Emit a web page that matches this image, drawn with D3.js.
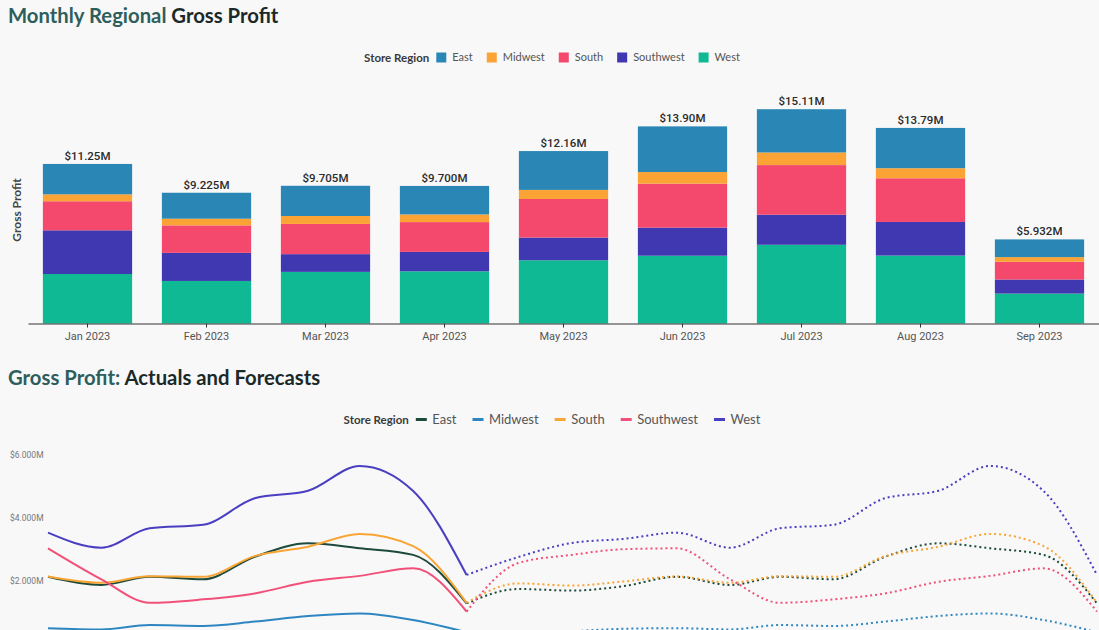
<!DOCTYPE html>
<html><head><meta charset="utf-8">
<script src="https://cdn.jsdelivr.net/npm/d3@7"></script>
<style>
html,body{margin:0;padding:0;background:#f8f8f8;overflow:hidden;}
svg{display:block;}
</style></head><body>
<svg id="chart" width="1099" height="630"></svg>
<script>
// ---------- data ----------
const months = ["Jan 2023","Feb 2023","Mar 2023","Apr 2023","May 2023","Jun 2023","Jul 2023","Aug 2023","Sep 2023"];
const regions = ["East","Midwest","South","Southwest","West"];
const barColors = ["#2a87b5","#fba435","#f4486d","#3f38b0","#0fb993"];
const lineColors = ["#1d4a3c","#2e86c1","#f8a534","#f0507a","#4a3fc0"];
const totals = [11.25e6, 9.225e6, 9.705e6, 9.700e6, 12.16e6, 13.90e6, 15.11e6, 13.79e6, 5.932e6];
// monthly gross profit by region ($M), bar chart
const eastBar      = [2.14, 1.83, 2.13, 2.01, 2.74, 3.22, 3.05, 2.84, 1.25];
const midwestBar   = [0.49, 0.47, 0.56, 0.54, 0.64, 0.82, 0.89, 0.71, 0.33];
const southBar     = [2.05, 1.94, 2.13, 2.10, 2.72, 3.10, 3.50, 3.08, 1.25];
const southwestBar = [3.08, 1.98, 1.25, 1.37, 1.60, 1.98, 2.12, 2.37, 0.99];
const westBar      = [3.49, 3.00, 3.64, 3.68, 4.46, 4.78, 5.55, 4.79, 2.11];

// line chart: actuals ($M)
const actualDates = ["2023-01","2023-02","2023-03","2023-04","2023-05","2023-06","2023-07","2023-08","2023-09"];
const eastActual      = [2.12, 1.86, 2.12, 2.04, 2.76, 3.19, 3.03, 2.82, 1.27];
const midwestActual   = [0.48, 0.44, 0.58, 0.55, 0.69, 0.87, 0.95, 0.74, 0.35];
const southActual     = [2.13, 1.93, 2.14, 2.12, 2.78, 3.08, 3.49, 3.10, 1.29];
const southwestActual = [3.03, 2.04, 1.29, 1.40, 1.59, 1.96, 2.15, 2.39, 1.01];
const westActual      = [3.53, 3.05, 3.67, 3.78, 4.63, 4.87, 5.66, 4.86, 2.18];
// line chart: forecasts ($M)
const forecastDates = ["2023-09","2023-10","2023-11","2023-12","2024-01","2024-02","2024-03","2024-04","2024-05","2024-06","2024-07","2024-08","2024-09"];
const eastForecast      = [1.27, 1.73, 1.68, 1.82, 2.12, 1.86, 2.12, 2.04, 2.76, 3.19, 3.03, 2.82, 1.27];
const midwestForecast   = [0.35, 0.28, 0.38, 0.46, 0.48, 0.44, 0.58, 0.55, 0.69, 0.87, 0.95, 0.74, 0.35];
const southForecast     = [1.29, 1.91, 1.84, 1.97, 2.13, 1.93, 2.14, 2.12, 2.78, 3.08, 3.49, 3.10, 1.29];
const southwestForecast = [1.01, 2.56, 2.82, 3.00, 3.03, 2.04, 1.29, 1.40, 1.59, 1.96, 2.15, 2.39, 1.01];
const westForecast      = [2.18, 2.75, 3.20, 3.33, 3.53, 3.05, 3.67, 3.78, 4.63, 4.87, 5.66, 4.86, 2.18];
const lineTicks = [2e6, 4e6, 6e6];

// ---------- setup ----------
const svg = d3.select("#chart");
const M = 1e6;
const fmt = d3.format("$.4s");
const TITLE_FONT = "Lato, 'Noto Sans', sans-serif";
const AXIS_FONT = "Roboto, 'Noto Sans', sans-serif";
const teal = "#2e5e5b", dark = "#1b2928";

function title(y, a, b) {
  const t = svg.append("text").attr("x", 8).attr("y", y)
    .attr("font-family", TITLE_FONT).attr("font-weight", 700).attr("font-size", 20.3);
  t.append("tspan").attr("fill", teal).text(a);
  t.append("tspan").attr("fill", dark).text(b);
}
title(23, "Monthly Regional ", "Gross Profit");
title(385, "Gross Profit: ", "Actuals and Forecasts");

// ---------- legend helper ----------
function legend(cy, centerX, itemSize, marker, colors, gapAfterMarker, gapItems) {
  const g = svg.append("g");
  let x = 0;
  const lab = g.append("text").attr("x", x).attr("y", cy).attr("dy", "0.35em")
    .attr("font-family", TITLE_FONT).attr("font-weight", 700).attr("font-size", 11.5)
    .attr("fill", "#3a3a3a").text("Store Region");
  x += lab.node().getComputedTextLength() + 7;
  regions.forEach((r, i) => {
    if (marker === "square") {
      g.append("rect").attr("x", x).attr("y", cy - 5).attr("width", 10).attr("height", 10).attr("fill", colors[i]);
      x += 10 + gapAfterMarker;
    } else {
      g.append("rect").attr("x", x).attr("y", cy - 1.5).attr("width", 11).attr("height", 3).attr("fill", colors[i]);
      x += 11 + gapAfterMarker;
    }
    const t = g.append("text").attr("x", x).attr("y", cy).attr("dy", "0.35em")
      .attr("font-family", TITLE_FONT).attr("font-size", itemSize).attr("fill", "#555").text(r);
    x += t.node().getComputedTextLength() + gapItems;
  });
  x -= gapItems;
  g.attr("transform", `translate(${centerX - x / 2},0)`);
}
legend(57.5, 552, 11, "square", barColors, 6, 14);
legend(419.5, 552, 13, "line", lineColors, 5.5, 16);

// ---------- bar chart ----------
const barTable = months.map((m, i) => ({
  month: m, East: eastBar[i] * M, Midwest: midwestBar[i] * M, South: southBar[i] * M,
  Southwest: southwestBar[i] * M, West: westBar[i] * M, total: totals[i]
}));
const stackKeys = ["West", "Southwest", "South", "Midwest", "East"];
const stacked = d3.stack().keys(stackKeys)(barTable);
const colorOf = d3.scaleOrdinal().domain(regions).range(barColors);

const xb = d3.scaleBand().domain(months).range([28, 1099]).paddingInner(0.25).paddingOuter(0.125);
const yb = d3.scaleLinear().domain([0, 16.5 * M]).range([323.5, 89.5]);

svg.append("g").selectAll("g").data(stacked).join("g")
  .attr("fill", d => colorOf(d.key))
  .selectAll("rect").data(d => d).join("rect")
  .attr("x", d => xb(d.data.month))
  .attr("width", xb.bandwidth())
  .attr("y", d => yb(d[1]))
  .attr("height", d => yb(d[0]) - yb(d[1]));

svg.append("g").selectAll("text").data(barTable).join("text")
  .attr("x", d => xb(d.month) + xb.bandwidth() / 2)
  .attr("y", d => yb(d3.sum(stackKeys, k => d[k])) - 4)
  .attr("text-anchor", "middle")
  .attr("font-family", AXIS_FONT).attr("font-weight", 500).attr("font-size", 11.5)
  .attr("fill", "#2b2b2b")
  .text(d => fmt(d.total));

const xAxis = svg.append("g").attr("transform", `translate(0,${yb(0)})`)
  .call(d3.axisBottom(xb).tickSize(4).tickSizeOuter(0).tickPadding(5));
xAxis.select(".domain").attr("stroke", "#333").attr("stroke-width", 1.2);
xAxis.selectAll(".tick line").attr("stroke", "#333");
xAxis.selectAll(".tick text").attr("font-family", AXIS_FONT).attr("font-size", 11).attr("fill", "#555");

svg.append("text").attr("transform", `translate(20.5,210) rotate(-90)`)
  .attr("text-anchor", "middle")
  .attr("font-family", TITLE_FONT).attr("font-weight", 700).attr("font-size", 12)
  .attr("fill", "#444").text("Gross Profit");

// ---------- line chart ----------
const parse = d3.timeParse("%Y-%m");
const xl = d3.scaleTime().domain([parse("2023-01"), parse("2024-09")]).range([48, 1097]);
const yl = d3.scaleLinear().domain([0, 6 * M]).range([643.2, 455.3]);

svg.append("g").selectAll("text").data(lineTicks).join("text")
  .attr("x", 10).attr("y", d => yl(d)).attr("dy", "0.35em")
  .attr("font-family", AXIS_FONT).attr("font-size", 8.5).attr("fill", "#777")
  .text(d => fmt(d));

const actuals = [eastActual, midwestActual, southActual, southwestActual, westActual];
const forecasts = [eastForecast, midwestForecast, southForecast, southwestForecast, westForecast];
const line = d3.line().x(d => xl(d.date)).y(d => yl(d.value)).curve(d3.curveMonotoneX);

const lg = svg.append("g").attr("fill", "none");
regions.forEach((r, i) => {
  const fd = forecastDates.map((d, j) => ({ date: parse(d), value: forecasts[i][j] * M }));
  lg.append("path").attr("d", line(fd)).attr("stroke", lineColors[i])
    .attr("stroke-width", 2).attr("stroke-dasharray", "2 3");
});
regions.forEach((r, i) => {
  const ad = actualDates.map((d, j) => ({ date: parse(d), value: actuals[i][j] * M }));
  lg.append("path").attr("d", line(ad)).attr("stroke", lineColors[i]).attr("stroke-width", 2);
});
</script>
</body></html>
